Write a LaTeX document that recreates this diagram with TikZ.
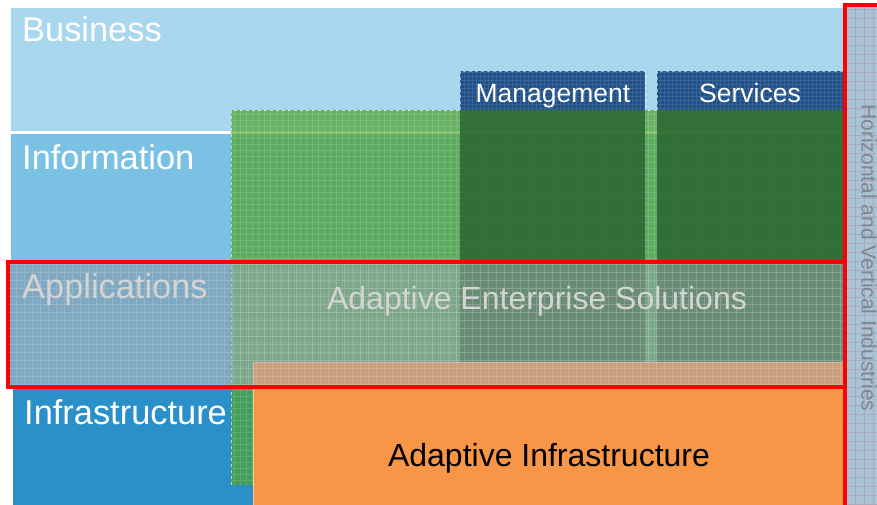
\documentclass[tikz,border=0pt]{standalone}
\usepackage{fontspec}
\setmainfont{Liberation Sans}
\definecolor{busc}{HTML}{A9D7ED}
\definecolor{infoc}{HTML}{7BC1E4}
\definecolor{appc}{HTML}{5BA8D6}
\definecolor{infrac}{HTML}{2B8FC9}
\definecolor{greenc}{HTML}{4FA52E}
\definecolor{darkg}{HTML}{2A6530}
\definecolor{headc}{HTML}{1F4F87}
\definecolor{orangec}{HTML}{F79646}
\definecolor{overc}{HTML}{A3AAB2}
\definecolor{barc}{HTML}{AAC4D6}
\definecolor{redc}{HTML}{FF0000}
\definecolor{labgray}{HTML}{D4D4D4}
\definecolor{vertgray}{HTML}{7D8790}
\tikzset{
  gridline/.style={line width=0.35pt},
  biglab/.style={font=\fontsize{34.4}{36}\selectfont, text=white, anchor=base west, inner sep=0pt},
  headlab/.style={font=\fontsize{26.5}{28}\selectfont, text=white, anchor=base, inner sep=0pt},
  midlab/.style={font=\fontsize{32}{34}\selectfont, anchor=base, inner sep=0pt},
  redframe/.style={draw=redc, line width=4pt}
}
\begin{document}
\begin{tikzpicture}[x=1pt,y=-1pt]
\useasboundingbox (0,0) rectangle (877,505);
\clip (0,0) rectangle (877,505);
% base bands
\fill[busc] (11,8) rectangle (843,131.5);
\fill[white] (11,131.5) rectangle (843,134.5);
\fill[infoc] (11,134.5) rectangle (843,262);
\fill[appc] (10,262) rectangle (843,386);
\fill[infrac] (13,388) rectangle (253,505);
% green block
\fill[greenc, opacity=0.72] (231,110) rectangle (843,386);
\fill[greenc, opacity=0.72] (231,386) rectangle (253,485);
\draw[white, opacity=0.14, gridline, step=6pt] (231,110) grid (843,386);
\draw[white, opacity=0.14, gridline, step=6pt] (231,386) grid (253,485);
\draw[white, opacity=0.6, line width=0.8pt, dashed] (231,485) -- (231,110) -- (843,110);
% management / services columns
\fill[headc] (460,71) rectangle (645,110);
\fill[headc] (657,71) rectangle (843,110);
\fill[darkg, opacity=0.85] (460,110) rectangle (645,386);
\fill[darkg, opacity=0.85] (657,110) rectangle (843,386);
\draw[white, opacity=0.12, gridline, step=4pt] (460,71) grid (645,110);
\draw[white, opacity=0.12, gridline, step=4pt] (657,71) grid (843,110);
\draw[white, opacity=0.5, line width=0.6pt, dashed] (460,110) -- (460,71) -- (645,71) -- (645,110);
\draw[white, opacity=0.5, line width=0.6pt, dashed] (657,110) -- (657,71) -- (843,71);
% orange
\fill[orangec] (253,362) rectangle (843,505);
\draw[white, opacity=0.5, line width=0.6pt] (253,505) -- (253,362) -- (843,362);
% applications overlay
\fill[overc, opacity=0.5] (10,262) rectangle (843,386);
\draw[labgray, opacity=0.3, gridline, step=8pt] (10,262) grid (843,386);
% right bar
\fill[barc] (845,5) rectangle (877,505);
\draw[gray!60!red, opacity=0.2, gridline, step=9pt] (845,5) grid (877,505);
% labels
\node[biglab] (bus) at (22,42) {Business};
\node[biglab] (info) at (22,170) {Information};
\node[biglab, text=labgray] (apps) at (22,298) {Applications};
\node[biglab] (infra) at (24,424) {Infrastructure};
\node[headlab] (mgmt) at (553,103) {Management};
\node[headlab] (serv) at (750,103) {Services};
\node[midlab, text=labgray] (aes) at (537,309) {Adaptive Enterprise Solutions};
\node[midlab, text=black] (ai) at (549,466) {Adaptive Infrastructure};
\node[font=\fontsize{21}{22}\selectfont, text=vertgray, rotate=-90, inner sep=0pt] (hvi) at (869,258) {Horizontal and Vertical Industries};
% red frames
\draw[redframe] (7.5,262) rectangle (845,387);
\draw[redframe] (845,5.5) rectangle (890,520);
\end{tikzpicture}
\end{document}
